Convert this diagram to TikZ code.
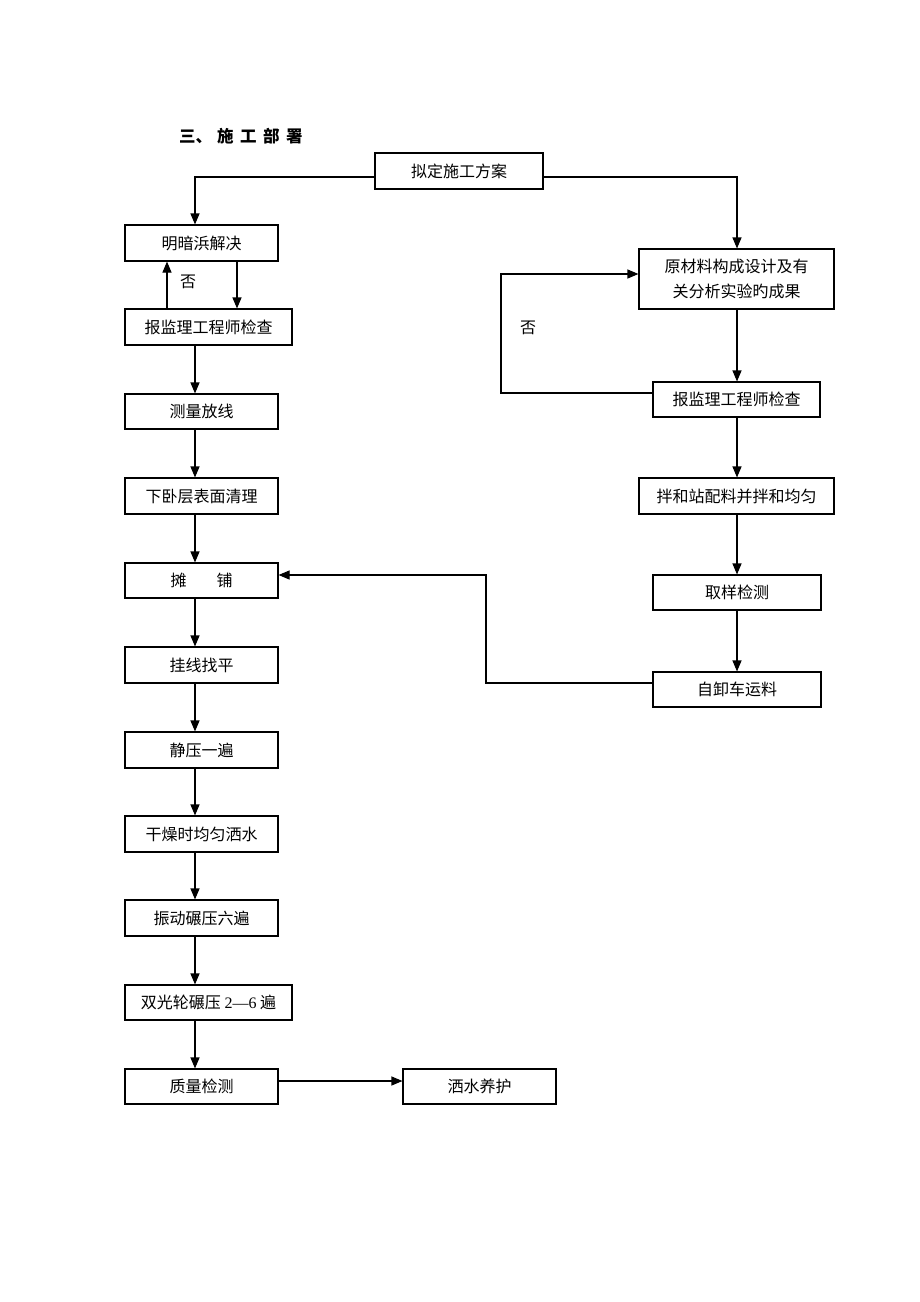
\documentclass[tikz,border=0pt]{standalone}
\usepackage{fontspec}
\setmainfont{Liberation Serif}
\newfontfamily\cjk{Noto Sans CJK SC}
\usetikzlibrary{arrows.meta}
\begin{document}
\begin{tikzpicture}[x=1pt,y=-1pt,
  box/.style={draw,line width=1.1pt,minimum height=36pt,inner sep=0pt,font=\cjk\fontsize{16}{18}\selectfont},
  wA/.style={minimum width=153pt},
  wB/.style={minimum width=167pt},
  wC/.style={minimum width=195pt},
  line/.style={line width=1.1pt},
  arr/.style={line width=1.1pt,-{Triangle[width=9pt,length=11pt]}},
  lbl/.style={font=\cjk\fontsize{16}{18}\selectfont,inner sep=0pt}]
\useasboundingbox[fill=white] (0,0) rectangle (920,1302);
% title
\node[inner sep=0pt,anchor=west,font=\cjk\bfseries\fontsize{16.5}{18}\selectfont] (title) at (179,136) {三、\hspace{5pt}施\hspace{6.5pt}工\hspace{6.5pt}部\hspace{6.5pt}署};
% left column
\node[box,minimum width=168pt] (plan) at (459,171) {拟定施工方案};
\node[box,wA] (mingan) at (201.5,243) {明暗浜解决};
\node[box,wB] (check1) at (208.5,327) {报监理工程师检查};
\node[box,wA,minimum height=35pt] (celiang) at (201.5,411.5) {测量放线};
\node[box,wA] (xiawo) at (201.5,496) {下卧层表面清理};
\node[box,wA,minimum height=35pt] (tanpu) at (201.5,580.5) {摊\hspace{30pt}铺};
\node[box,wA] (guaxian) at (201.5,665) {挂线找平};
\node[box,wA] (jingya) at (201.5,750) {静压一遍};
\node[box,wA] (ganzao) at (201.5,834) {干燥时均匀洒水};
\node[box,wA] (zhendong) at (201.5,918) {振动碾压六遍};
\node[box,wB,minimum height=35pt] (shuang) at (208.5,1002.5) {双光轮碾压 {\rmfamily 2—6} 遍};
\node[box,wA,minimum height=35pt] (zhiliang) at (201.5,1086.5) {质量检测};
\node[box,wA,minimum height=35pt] (sashui) at (479.5,1086.5) {洒水养护};
% right column
\node[box,wC,minimum height=60pt,align=center,font=\cjk\fontsize{16}{25}\selectfont] (yuan) at (736.5,279) {原材料构成设计及有\\关分析实验旳成果};
\node[box,wB,minimum height=35pt] (check2) at (736.5,399.5) {报监理工程师检查};
\node[box,wC] (banhe) at (736.5,496) {拌和站配料并拌和均匀};
\node[box,minimum width=168pt,minimum height=35pt] (quyang) at (737,592.5) {取样检测};
\node[box,minimum width=168pt,minimum height=35pt] (zixie) at (737,689.5) {自卸车运料};
% labels
\node[lbl] (no1) at (188,282) {否};
\node[lbl] (no2) at (528,328) {否};
% helper coordinates
\coordinate (colL) at (195,0);
\coordinate (colR) at (737,0);
\coordinate (upX) at (167,0);
\coordinate (dnX) at (237,0);
\coordinate (loopX) at (501,0);
\coordinate (retX) at (486,0);
% top branches
\draw[arr] ([yshift=-6pt]plan.west) -| (mingan.north -| colL);
\draw[arr] ([yshift=-6pt]plan.east) -| (yuan.north -| colR);
% mingan loop
\draw[arr] (check1.north -| upX) -- (mingan.south -| upX);
\draw[arr] (mingan.south -| dnX) -- (check1.north -| dnX);
% left chain
\draw[arr] (check1.south -| colL) -- (celiang.north -| colL);
\draw[arr] (celiang.south -| colL) -- (xiawo.north -| colL);
\draw[arr] (xiawo.south -| colL) -- (tanpu.north -| colL);
\draw[arr] (tanpu.south -| colL) -- (guaxian.north -| colL);
\draw[arr] (guaxian.south -| colL) -- (jingya.north -| colL);
\draw[arr] (jingya.south -| colL) -- (ganzao.north -| colL);
\draw[arr] (ganzao.south -| colL) -- (zhendong.north -| colL);
\draw[arr] (zhendong.south -| colL) -- (shuang.north -| colL);
\draw[arr] (shuang.south -| colL) -- (zhiliang.north -| colL);
\draw[arr] ([yshift=5.5pt]zhiliang.east) -- ([yshift=5.5pt]sashui.west);
% right chain
\draw[arr] (yuan.south -| colR) -- (check2.north -| colR);
\draw[arr] ([yshift=6.5pt]check2.west) -| ([yshift=5pt]yuan.west -| loopX) -- ([yshift=5pt]yuan.west);
\draw[arr] (check2.south -| colR) -- (banhe.north -| colR);
\draw[arr] (banhe.south -| colR) -- (quyang.north -| colR);
\draw[arr] (quyang.south -| colR) -- (zixie.north -| colR);
\draw[arr] ([yshift=6.5pt]zixie.west) -| ([yshift=5.5pt]tanpu.east -| retX) -- ([yshift=5.5pt]tanpu.east);
\end{tikzpicture}
\end{document}
